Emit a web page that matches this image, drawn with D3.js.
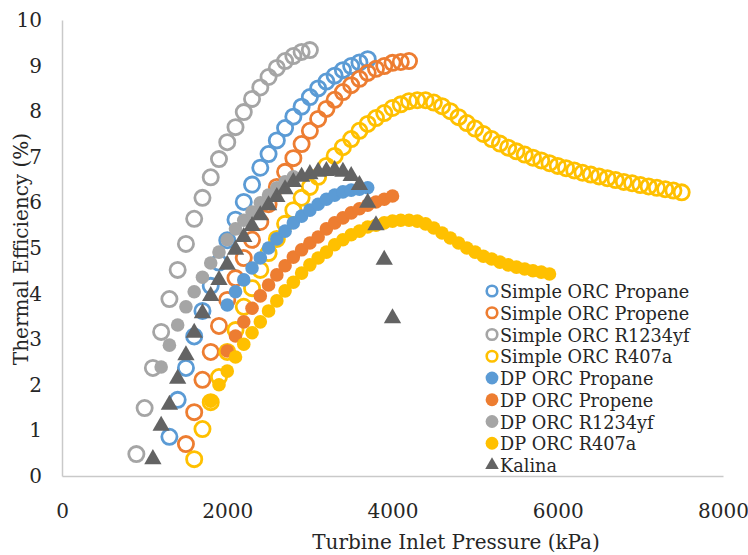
<!DOCTYPE html>
<html><head><meta charset="utf-8">
<script src="https://cdn.jsdelivr.net/npm/d3@7"></script>
<style>
html,body{margin:0;padding:0;background:#fff;}
svg{display:block;}
</style></head>
<body>
<svg id="chart" width="748" height="555"></svg>
<script>
// ---- DATA: [pressure kPa, efficiency %] ----
const simplePropane = [[1300,0.86],[1400,1.67],[1500,2.37],[1600,3.06],[1700,3.62],[1800,4.17],[1900,4.68],[2000,5.17],[2100,5.62],[2200,6.01],[2300,6.39],[2400,6.76],[2500,7.06],[2600,7.36],[2700,7.63],[2800,7.88],[2900,8.10],[3000,8.31],[3100,8.50],[3200,8.65],[3300,8.78],[3400,8.90],[3500,8.99],[3600,9.07],[3700,9.14]];
const simplePropene = [[1500,0.70],[1600,1.40],[1700,2.11],[1800,2.72],[1900,3.29],[2000,3.86],[2100,4.34],[2200,4.78],[2300,5.18],[2400,5.57],[2500,5.96],[2600,6.34],[2700,6.67],[2800,6.97],[2900,7.28],[3000,7.57],[3100,7.83],[3200,8.05],[3300,8.25],[3400,8.42],[3500,8.57],[3600,8.71],[3700,8.84],[3800,8.93],[3900,8.99],[4000,9.06],[4100,9.08],[4200,9.10]];
const simpleR1234yf = [[900,0.48],[1000,1.49],[1100,2.37],[1200,3.16],[1300,3.88],[1400,4.52],[1500,5.09],[1600,5.64],[1700,6.10],[1800,6.55],[1900,6.95],[2000,7.32],[2100,7.65],[2200,7.98],[2300,8.27],[2400,8.52],[2500,8.75],[2600,8.95],[2700,9.10],[2800,9.21],[2900,9.30],[3000,9.34]];
const simpleR407a = [[1600,0.37],[1700,1.03],[1800,1.62],[1900,2.17],[2000,2.72],[2100,3.20],[2200,3.71],[2300,4.12],[2400,4.52],[2500,4.89],[2600,5.20],[2700,5.53],[2800,5.83],[2900,6.10],[3000,6.34],[3100,6.56],[3200,6.80],[3300,7.02],[3400,7.21],[3500,7.39],[3600,7.57],[3700,7.72],[3800,7.85],[3900,7.96],[4000,8.07],[4100,8.15],[4200,8.22],[4300,8.24],[4400,8.24],[4500,8.19],[4600,8.11],[4700,8.00],[4800,7.87],[4900,7.74],[5000,7.62],[5100,7.50],[5200,7.39],[5300,7.29],[5400,7.20],[5500,7.12],[5600,7.05],[5700,6.98],[5800,6.92],[5900,6.86],[6000,6.80],[6100,6.75],[6200,6.70],[6300,6.65],[6400,6.61],[6500,6.57],[6600,6.53],[6700,6.49],[6800,6.45],[6900,6.42],[7000,6.38],[7100,6.35],[7200,6.32],[7300,6.29],[7400,6.26],[7500,6.22]];
const dpPropane = [[2000,3.75],[2100,4.04],[2200,4.30],[2300,4.56],[2400,4.78],[2500,5.00],[2600,5.20],[2700,5.37],[2800,5.55],[2900,5.70],[3000,5.83],[3100,5.96],[3200,6.07],[3300,6.16],[3400,6.23],[3500,6.27],[3600,6.29],[3700,6.32]];
const dpPropene = [[2000,2.74],[2100,3.07],[2200,3.38],[2300,3.68],[2400,3.95],[2500,4.19],[2600,4.41],[2700,4.61],[2800,4.80],[2900,4.96],[3000,5.11],[3100,5.24],[3200,5.42],[3300,5.55],[3400,5.66],[3500,5.77],[3600,5.86],[3700,5.94],[3800,6.01],[3900,6.07],[4000,6.14]];
const dpR1234yf = [[1200,2.39],[1300,2.87],[1400,3.31],[1500,3.71],[1600,4.04],[1700,4.36],[1800,4.67],[1900,4.91],[2000,5.18],[2100,5.42],[2200,5.61],[2300,5.79],[2400,5.99],[2500,6.16],[2600,6.32],[2700,6.45],[2800,6.56]];
const dpR407a = [[1800,1.64],[1900,2.00],[2000,2.30],[2100,2.61],[2200,2.89],[2300,3.14],[2400,3.38],[2500,3.62],[2600,3.84],[2700,4.06],[2800,4.25],[2900,4.45],[3000,4.63],[3100,4.78],[3200,4.91],[3300,5.07],[3400,5.18],[3500,5.29],[3600,5.37],[3700,5.46],[3800,5.50],[3900,5.55],[4000,5.59],[4100,5.61],[4200,5.61],[4300,5.59],[4400,5.53],[4500,5.44],[4600,5.33],[4700,5.22],[4800,5.11],[4900,5.00],[5000,4.91],[5100,4.82],[5200,4.76],[5300,4.69],[5400,4.63],[5500,4.58],[5600,4.54],[5700,4.50],[5800,4.47],[5900,4.43]];
const kalina = [[1100,0.37],[1200,1.10],[1300,1.56],[1400,2.13],[1500,2.65],[1600,3.14],[1700,3.57],[1800,3.95],[1900,4.30],[2000,4.63],[2100,4.96],[2200,5.24],[2300,5.48],[2400,5.72],[2500,5.94],[2600,6.12],[2700,6.29],[2800,6.45],[2900,6.56],[3000,6.62],[3100,6.67],[3200,6.69],[3300,6.71],[3400,6.67],[3500,6.58],[3600,6.38],[3700,5.99],[3800,5.50],[3900,4.74],[4000,3.46]];

const seriesNames = ["Simple ORC Propane","Simple ORC Propene","Simple ORC R1234yf","Simple ORC R407a","DP ORC Propane","DP ORC Propene","DP ORC R1234yf","DP ORC R407a","Kalina"];
const seriesData = [simplePropane, simplePropene, simpleR1234yf, simpleR407a, dpPropane, dpPropene, dpR1234yf, dpR407a, kalina];
const seriesKind = ["open","open","open","open","filled","filled","filled","filled","triangle"];
const seriesColors = ["#5B9BD5","#ED7D31","#A5A5A5","#FFC000","#5B9BD5","#ED7D31","#A5A5A5","#FFC000","#636363"];
const xTicks = [0,2000,4000,6000,8000];
const yTicks = [0,1,2,3,4,5,6,7,8,9,10];

// ---- LAYOUT ----
const svg = d3.select("#chart");
const font = "'DejaVu Serif', serif";
const plotL = 62, plotR = 723, plotT = 20, plotB = 476;
const x = d3.scaleLinear().domain([0,8000]).range([plotL,plotR]);
const y = d3.scaleLinear().domain([0,10]).range([plotB,plotT]);

// axes
const gx = svg.append("g").attr("transform",`translate(0,${plotB})`)
  .call(d3.axisBottom(x).tickValues(xTicks).tickSize(0).tickPadding(28).tickFormat(d3.format("d")));
const gy = svg.append("g").attr("transform",`translate(${plotL},0)`)
  .call(d3.axisLeft(y).tickValues(yTicks).tickSize(0).tickPadding(20).tickFormat(d3.format("d")));
[gx,gy].forEach(g=>{
  g.select(".domain").attr("stroke","#c9c9c9").attr("stroke-width",1.5);
  g.selectAll("text").attr("font-family",font).attr("font-size",20).attr("fill","#262626");
});

// axis titles
svg.append("text").attr("x",456).attr("y",549).attr("text-anchor","middle")
  .attr("font-family",font).attr("font-size",20).attr("fill","#262626")
  .text("Turbine Inlet Pressure (kPa)");
svg.append("text").attr("transform","translate(28,249) rotate(-90)").attr("text-anchor","middle")
  .attr("font-family",font).attr("font-size",20).attr("fill","#262626")
  .text("Thermal Efficiency (%)");

// marks
const tri = d3.symbol().type(d3.symbolTriangle).size(130);
seriesData.forEach((data,i)=>{
  const g = svg.append("g");
  const kind = seriesKind[i], col = seriesColors[i];
  if(kind==="open"){
    g.selectAll("circle").data(data).join("circle")
      .attr("cx",d=>x(d[0])).attr("cy",d=>y(d[1])).attr("r",7.6)
      .attr("fill","none").attr("stroke",col).attr("stroke-width",2.8);
  } else if(kind==="filled"){
    g.selectAll("circle").data(data).join("circle")
      .attr("cx",d=>x(d[0])).attr("cy",d=>y(d[1])).attr("r",6.8)
      .attr("fill",col);
  } else {
    g.selectAll("path").data(data).join("path")
      .attr("d",tri).attr("transform",d=>`translate(${x(d[0])},${y(d[1])})`)
      .attr("fill",col);
  }
});

// legend
const lg = svg.append("g");
const legTri = d3.symbol().type(d3.symbolTriangle).size(80);
seriesNames.forEach((name,i)=>{
  const cy = 291 + i*21.75, cx = 492;
  const kind = seriesKind[i], col = seriesColors[i];
  if(kind==="open"){
    lg.append("circle").attr("cx",cx).attr("cy",cy).attr("r",5.3).attr("fill","none").attr("stroke",col).attr("stroke-width",2.6);
  } else if(kind==="filled"){
    lg.append("circle").attr("cx",cx).attr("cy",cy).attr("r",6.4).attr("fill",col);
  } else {
    lg.append("path").attr("d",legTri).attr("transform",`translate(${cx},${cy})`).attr("fill",col);
  }
  lg.append("text").attr("x",500).attr("y",cy+7).attr("font-family",font).attr("font-size",17.7).attr("fill","#262626").text(name);
});
</script>
</body></html>
